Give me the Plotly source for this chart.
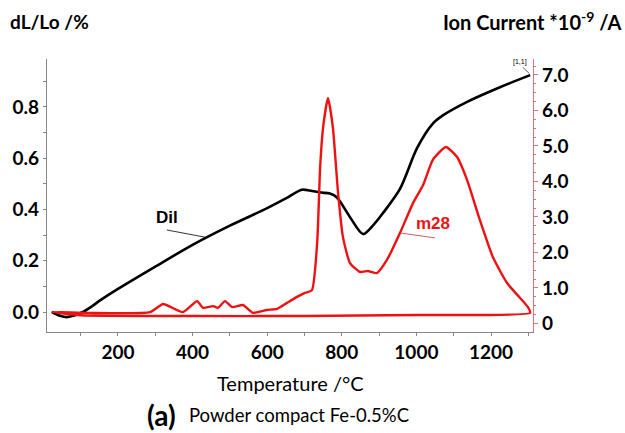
import plotly.graph_objects as go

# Dilatometer curve (left axis)
dil_T = [23, 45, 63, 85, 106, 130, 155, 200, 300, 400, 500, 600, 650, 693, 720, 745, 768, 787, 822, 857, 885, 910, 956, 1002, 1044, 1071, 1136, 1224, 1305]
dil_v = [0.0, -0.015, -0.02, -0.013, 0.0, 0.022, 0.048, 0.09, 0.177, 0.262, 0.337, 0.405, 0.443, 0.477, 0.472, 0.466, 0.462, 0.447, 0.37, 0.304, 0.34, 0.385, 0.48, 0.64, 0.735, 0.767, 0.82, 0.877, 0.924]

# Ion current m28 (right axis), heating branch followed by return baseline
m28_T = [23, 120, 286, 321, 374, 412, 428, 455, 468, 487, 506, 535, 562, 599, 626, 653, 680, 701, 720, 734, 742, 750, 763,
         776, 790, 803, 822, 849, 870, 894, 921, 956, 991, 1018, 1044, 1079, 1109, 1136, 1170, 1205, 1243, 1278, 1299, 1305,
         1000, 700, 400, 100, 23]
m28_v = [0.32, 0.30, 0.32, 0.55, 0.32, 0.63, 0.44, 0.49, 0.44, 0.63, 0.46, 0.52, 0.30, 0.38, 0.41, 0.58, 0.75, 0.86, 0.94, 2.27, 4.41, 5.53, 6.35,
         5.53, 3.68, 2.44, 1.70, 1.45, 1.48, 1.42, 1.79, 2.55, 3.39, 3.90, 4.61, 4.97, 4.69, 4.04, 2.92, 1.87, 1.14, 0.72, 0.46, 0.30,
         0.24, 0.21, 0.21, 0.23, 0.32]

x_ticks = [200, 400, 600, 800, 1000, 1200]
left_ticks = [0.0, 0.2, 0.4, 0.6, 0.8]
right_ticks = [0, 1, 2, 3, 4, 5, 6, 7]
right_labels = ["0", "1.0", "2.0", "3.0", "4.0", "5.0", "6.0", "7.0"]

FONT = "Lato"
TICKSZ = 19
fig = go.Figure()
fig.add_trace(go.Scatter(x=dil_T, y=dil_v, mode="lines", line=dict(color="black", width=2.6, shape="spline", smoothing=0.8),
                         yaxis="y", showlegend=False, hoverinfo="skip"))
fig.add_trace(go.Scatter(x=m28_T, y=m28_v, mode="lines", line=dict(color="#ee1111", width=2.4, shape="spline", smoothing=0.5),
                         yaxis="y2", showlegend=False, hoverinfo="skip"))

fig.update_layout(
    width=625, height=433,
    margin=dict(l=47, r=92, t=59, b=101),
    paper_bgcolor="white", plot_bgcolor="white",
    font=dict(family=FONT, color="black"),
    xaxis=dict(range=[9.7, 1312.6], tickmode="array", tickvals=x_ticks, ticktext=[str(v) for v in x_ticks],
               showgrid=False, zeroline=False, showline=True, linecolor="#888888", linewidth=1.2,
               ticks="outside", ticklen=3, tickcolor="#888888",
               minor=dict(dtick=100, tick0=0, ticks="outside", ticklen=3, tickcolor="#888888"),
               tickfont=dict(size=TICKSZ, family=FONT, weight="bold")),
    yaxis=dict(range=[-0.078, 0.987], tickmode="array", tickvals=left_ticks, ticktext=["%.1f" % v for v in left_ticks],
               showgrid=False, zeroline=False, showline=True, linecolor="#888888", linewidth=1.2,
               ticks="outside", ticklen=3, tickcolor="#888888",
               minor=dict(dtick=0.1, tick0=0, ticks="outside", ticklen=3, tickcolor="#888888"),
               tickfont=dict(size=TICKSZ, family=FONT, weight="bold")),
    yaxis2=dict(range=[-0.24, 7.45], overlaying="y", side="right", tickmode="array", tickvals=right_ticks, ticktext=right_labels,
                showgrid=False, zeroline=False, showline=True, linecolor="#e07080", linewidth=1.2,
                ticks="outside", ticklen=4, tickcolor="#e07080",
                minor=dict(dtick=0.25, tick0=0, ticks="outside", ticklen=2, tickcolor="#e07080"),
                tickfont=dict(size=TICKSZ, family=FONT, weight="bold")),
)

# Axis titles and captions
fig.add_annotation(text="dL/Lo /%", xref="paper", yref="paper", x=-0.081, y=1.0, yshift=38, xanchor="left", yanchor="middle",
                   showarrow=False, font=dict(size=19, family=FONT, weight="bold"))
fig.add_annotation(text="Ion Current *10<sup>-9</sup> /A", xref="paper", yref="paper", x=1.0, xshift=90, y=1.0, yshift=38,
                   xanchor="right", yanchor="middle", showarrow=False, font=dict(size=20, family=FONT, weight="bold"))
fig.add_annotation(text="Temperature /°C", xref="paper", yref="paper", x=0.5, y=0, yshift=-51, xanchor="center", yanchor="middle",
                   showarrow=False, font=dict(size=20, family=FONT))
fig.add_annotation(text="<b>(a)</b>", xref="paper", yref="paper", x=0.202, y=0, yshift=-83, xanchor="left", yanchor="middle",
                   showarrow=False, font=dict(size=28, family=FONT))
fig.add_annotation(text="Powder compact Fe-0.5%C", xref="paper", yref="paper", x=0.288, y=0, yshift=-83, xanchor="left", yanchor="middle",
                   showarrow=False, font=dict(size=18.5, family=FONT))

# Curve labels
fig.add_annotation(text="Dil", x=331, y=0.37, xref="x", yref="y", showarrow=False,
                   font=dict(size=17, family="Liberation Sans Narrow, Liberation Sans", weight="bold", color="black"))
fig.add_shape(type="line", xref="x", yref="y", x0=331, y0=0.32, x1=433, y1=0.292, line=dict(color="black", width=0.8))
fig.add_annotation(text="m28", x=1044, y=2.83, xref="x", yref="y2", showarrow=False,
                   font=dict(size=17, family="Liberation Sans Narrow, Liberation Sans", weight="bold", color="#ee1111"))
fig.add_shape(type="line", xref="x", yref="y2", x0=956, y0=2.55, x1=1050, y1=2.41, line=dict(color="#cc3333", width=0.8))
fig.add_annotation(text="[1,1]", x=1278, y=0.975, xref="x", yref="y", showarrow=False,
                   font=dict(size=7, family="Liberation Sans", color="black"))
fig.add_shape(type="line", xref="x", yref="y", x0=1285, y0=0.955, x1=1303, y1=0.93, line=dict(color="black", width=0.6))

fig.write_html("out.html")
